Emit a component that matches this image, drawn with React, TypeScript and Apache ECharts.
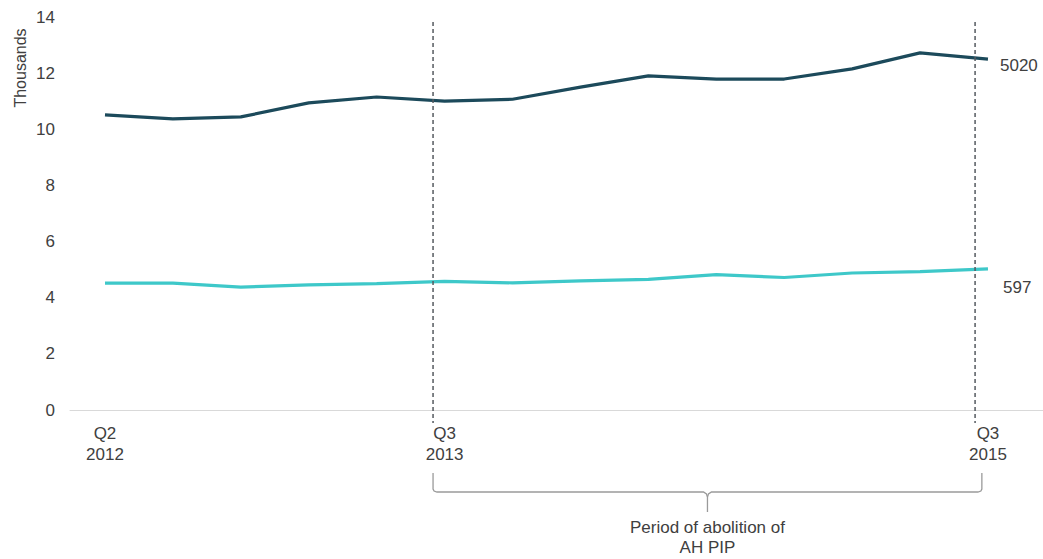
import React, { useEffect, useRef } from "react";
import * as echarts from "echarts";

const quarters = [
  "Q2 2012", "Q3 2012", "Q4 2012", "Q1 2013", "Q2 2013", "Q3 2013", "Q4 2013",
  "Q1 2014", "Q2 2014", "Q3 2014", "Q4 2014", "Q1 2015", "Q2 2015", "Q3 2015",
];
const shownLabelIndex = [0, 5, 13];
const darkSeries = [10.51, 10.37, 10.44, 10.94, 11.15, 11.0, 11.07, 11.5, 11.9, 11.79, 11.79, 12.15, 12.72, 12.5];
const cyanSeries = [4.52, 4.52, 4.38, 4.46, 4.5, 4.58, 4.53, 4.6, 4.65, 4.82, 4.72, 4.88, 4.93, 5.03];
const darkEndLabel = "5020";
const cyanEndLabel = "597";
const yTicks = { min: 0, max: 14, interval: 2 };
const periodLines = [4.83, 12.81];
const braceEnds = [4.83, 12.91];
const braceText = "Period of abolition of\nAH PIP";
const yTitle = "Thousands";

const FONT = "'Liberation Sans', Arial, sans-serif";
const TXT = "#404040";

export default function App() {
  const ref = useRef<HTMLDivElement>(null);
  useEffect(() => {
    document.body.style.margin = "0";
    const chart = echarts.init(ref.current!, null, { renderer: "svg" });
    const option: any = {
      animation: false,
      textStyle: { fontFamily: FONT },
      grid: { left: 70, right: 0, top: 17, bottom: 149, containLabel: false },
      xAxis: {
        type: "value",
        min: -0.515,
        max: 13.81,
        axisLine: { show: true, lineStyle: { color: "#d9d9d9", width: 1 } },
        axisTick: { show: false },
        splitLine: { show: false },
        axisLabel: {
          customValues: shownLabelIndex,
          formatter: (v: number) => quarters[Math.round(v)].replace(" ", "\n"),
          color: TXT,
          fontSize: 17,
          lineHeight: 21,
          margin: 13,
          fontFamily: FONT,
        },
      },
      yAxis: {
        type: "value",
        min: yTicks.min,
        max: yTicks.max,
        interval: yTicks.interval,
        axisLine: { show: false },
        axisTick: { show: false },
        splitLine: { show: false },
        axisLabel: { color: TXT, fontSize: 17, margin: 15, fontFamily: FONT },
      },
      series: [
        {
          type: "line",
          name: "Dark",
          data: darkSeries.map((v, i) => [i, v]),
          symbol: "none",
          lineStyle: { color: "#1c4a5b", width: 3.2 },
          endLabel: {
            show: true,
            formatter: darkEndLabel,
            color: TXT,
            fontSize: 17,
            distance: 12,
            offset: [0, 6],
            fontFamily: FONT,
          },
        },
        {
          type: "line",
          name: "Cyan",
          data: cyanSeries.map((v, i) => [i, v]),
          symbol: "none",
          lineStyle: { color: "#3ec8c9", width: 3.2 },
          endLabel: {
            show: true,
            formatter: cyanEndLabel,
            color: TXT,
            fontSize: 17,
            distance: 15,
            offset: [0, 19],
            fontFamily: FONT,
          },
        },
      ],
    };
    chart.setOption(option);

    const px = (v: number) => chart.convertToPixel({ xAxisIndex: 0 }, v) as number;
    const py = (v: number) => chart.convertToPixel({ yAxisIndex: 0 }, v) as number;
    const yTop = py(yTicks.max) + 5;
    const yBot = py(0) + 13;

    const graphic: any[] = periodLines.map((v) => ({
      type: "line",
      shape: { x1: px(v), y1: yTop, x2: px(v), y2: yBot },
      style: { stroke: "#555a60", lineWidth: 1.5, lineDash: [4, 3] },
      z: 10,
    }));

    const bx1 = px(braceEnds[0]);
    const bx2 = px(braceEnds[1]);
    const bm = (bx1 + bx2) / 2;
    const bTop = py(0) + 63;
    const bMid = py(0) + 82;
    const bTip = py(0) + 102;
    const braceStyle = { stroke: "#9a9a9a", lineWidth: 1.3, fill: null };
    graphic.push({
      type: "polyline",
      shape: {
        points: [
          [bx1, bTop], [bx1, bMid - 3], [bx1 + 1, bMid - 1], [bx1 + 4, bMid],
          [bm - 4, bMid], [bm - 1, bMid + 2], [bm, bMid + 5], [bm, bTip],
        ],
      },
      style: braceStyle,
    });
    graphic.push({
      type: "polyline",
      shape: {
        points: [
          [bm, bMid + 5], [bm + 1, bMid + 2], [bm + 4, bMid],
          [bx2 - 4, bMid], [bx2 - 1, bMid - 1], [bx2, bMid - 3], [bx2, bTop],
        ],
      },
      style: braceStyle,
    });
    graphic.push({
      type: "text",
      x: bm,
      y: bTip + 5,
      style: {
        text: braceText,
        fill: TXT,
        font: `17px ${FONT}`,
        align: "center",
        verticalAlign: "top",
        lineHeight: 20,
      },
    });
    graphic.push({
      type: "text",
      x: 20,
      y: 68,
      rotation: Math.PI / 2,
      style: {
        text: yTitle,
        fill: TXT,
        font: `16px ${FONT}`,
        align: "center",
        verticalAlign: "middle",
      },
    });
    chart.setOption({ graphic });

    return () => chart.dispose();
  }, []);
  return <div ref={ref} style={{ width: 1043, height: 559 }} />;
}
